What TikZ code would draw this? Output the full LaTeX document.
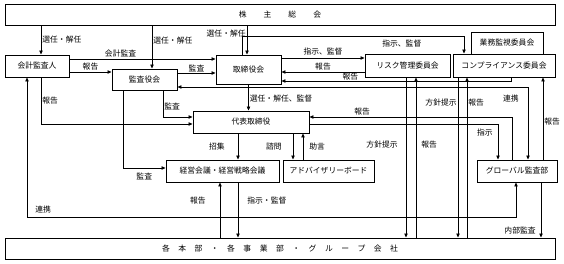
\documentclass[tikz,border=0pt]{standalone}
\usepackage{fontspec}
\setmainfont{Noto Sans CJK JP}
\usepackage{tikz}
\usetikzlibrary{arrows.meta,positioning}
\newcommand{\jp}{\fontsize{7.8}{9}\selectfont}

\begin{document}
\begin{tikzpicture}[
    x=1pt, y=-1pt,
    box/.style={rectangle, draw=black, line width=0.9pt, inner sep=0pt, font=\jp},
    arrow/.style={line width=0.7pt, -{Triangle[length=4pt,width=3.4pt]}},
    both_arrow/.style={line width=0.7pt, {Triangle[length=4pt,width=3.4pt]}-{Triangle[length=4pt,width=3.4pt]}},
    lbl/.style={font=\jp, inner sep=1pt}
]
\useasboundingbox (0,0) rectangle (564,264);

% Top and bottom
\node[box, minimum width=550pt, minimum height=21pt] (soukai) at (280,14.5) {株\kern17pt 主\kern17pt 総\kern17pt 会};
\node[box, minimum width=550pt, minimum height=21pt] (kakuhonbu) at (280,248.5) {各\kern8.5pt 本\kern8.5pt 部\kern8.5pt ・\kern8.5pt 各\kern8.5pt 事\kern8.5pt 業\kern8.5pt 部\kern8.5pt ・\kern8.5pt グ\kern8.5pt ル\kern8.5pt ー\kern8.5pt プ\kern8.5pt 会\kern8.5pt 社};

% Board level
\node[box, minimum width=64pt, minimum height=22pt] (kaikei) at (37,66) {会計監査人};
\node[box, minimum width=65pt, minimum height=21pt] (kansa) at (144.5,79.5) {監査役会};
\node[box, minimum width=65pt, minimum height=29pt] (torishimari) at (248.5,69.5) {取締役会};
\node[box, minimum width=85pt, minimum height=23pt] (risk) at (407.5,65.5) {リスク管理委員会};
\node[box, minimum width=102pt, minimum height=23pt] (comp) at (504,65.5) {コンプライアンス委員会};
\node[box, minimum width=72pt, minimum height=22pt] (gyomu) at (507,43) {業務監視委員会};

% Executive level
\node[box, minimum width=116pt, minimum height=22pt] (daihyo) at (251,122) {代表取締役};
\node[box, minimum width=113pt, minimum height=22pt] (keiei) at (222.5,171) {経営会議・経営戦略会議};
\node[box, minimum width=91pt, minimum height=22pt] (advisory) at (328.5,171) {アドバイザリーボード};
\node[box, minimum width=80pt, minimum height=22pt] (global) at (517,171) {グローバル監査部};

% Shareholders
\draw[arrow] ([xshift=4pt]kaikei.north |- soukai.south) -- ([xshift=4pt]kaikei.north) node[midway, right, lbl] {選任・解任};
\draw[arrow] ([xshift=7.5pt]kansa.north |- soukai.south) -- ([xshift=7.5pt]kansa.north) node[pos=0.36, right, lbl] {選任・解任};
\draw[arrow] ([xshift=-1.5pt]torishimari.north |- soukai.south) -- ([xshift=-1.5pt]torishimari.north) node[pos=0.27, left, lbl] {選任・解任};

% Audit connections
\draw[arrow] ([yshift=7pt]kaikei.east) -- ([yshift=7pt]kaikei.east -| torishimari.west) node[pos=0.35, above, lbl] {会計監査};
\draw[arrow] ([yshift=-6pt]kaikei.east) -- ([yshift=-6pt]kaikei.east -| kansa.west) node[midway, above, lbl] {報告};
\draw[arrow] ([yshift=6.5pt]kansa.east) -- ([yshift=6.5pt]kansa.east -| torishimari.west) node[midway, above, lbl] {監査};
\draw[arrow] ([xshift=18.5pt]kansa.south) |- ([yshift=5pt]daihyo.west) node[pos=0.31, right, lbl] {監査};
\draw[arrow] ([xshift=4pt]kaikei.south) |- ([yshift=-2pt]daihyo.west) node[pos=0.245, right, lbl] {報告};
\draw[arrow] ([xshift=-21.5pt]kansa.south) |- ([yshift=3pt]keiei.west) node[pos=0.75, below=4pt, lbl] {監査};
\draw[both_arrow] ([yshift=-7.5pt]kansa.east) -| ([xshift=11pt]global.north) node[pos=0.58, left=8pt, lbl] {連携};
\draw[both_arrow] ([xshift=-10pt]kaikei.south) |- ([yshift=20pt]kakuhonbu.north) node[pos=0.47, right=7pt, lbl] {連携} -| ([xshift=-1pt]global.south);

% Board and committees
\draw[arrow] ([yshift=11.5pt]torishimari.east) -- ([yshift=11.5pt]torishimari.east -| risk.west) node[midway, above=2pt, lbl] {指示、監督};
\draw[arrow] ([yshift=-2.5pt]torishimari.east -| risk.west) -- ([yshift=-2.5pt]torishimari.east) node[midway, above, lbl] {報告};
\draw[arrow] ([xshift=7pt]comp.south) |- ([yshift=-11.5pt]torishimari.east) node[pos=0.85, above=-0.5pt, lbl] {報告};
\draw[arrow] ([xshift=-6.5pt]torishimari.north) -- ++(0,-18) -| ([xshift=-40pt]comp.north) node[pos=0.36, below=2pt, lbl] {指示、監督};
\draw[arrow] (torishimari.south) -- (torishimari.south |- daihyo.north) node[pos=0.55, right, lbl] {選任・解任、監督};

% Representative director
\draw[arrow] ([xshift=-13pt]daihyo.south) -- ([xshift=-13pt]daihyo.south |- keiei.north) node[midway, left=12pt, lbl] {招集};
\draw[arrow] ([xshift=42pt]daihyo.south) -- ([xshift=42pt]daihyo.south |- advisory.north) node[midway, left=10pt, lbl] {諮問};
\draw[arrow] ([xshift=-25.5pt]advisory.north) -- ([xshift=-25.5pt]advisory.north |- daihyo.south) node[midway, right=5pt, lbl] {助言};
\draw[arrow] ([xshift=-5pt]global.north) |- ([yshift=5pt]daihyo.east) node[pos=0.87, above, lbl] {報告};
\draw[arrow] ([yshift=-2pt]daihyo.east) -| ([xshift=-19pt]global.north) node[pos=0.625, left=4pt, lbl] {指示};
\draw[arrow] ([xshift=26pt]global.north) -- ([xshift=26pt]global.north |- comp.south) node[pos=0.46, right, lbl] {報告};

% Committees and departments
\draw[arrow] ([xshift=-1.5pt]risk.south) -- ([xshift=-1.5pt]risk.south |- kakuhonbu.north) node[pos=0.42, left=7pt, lbl] {方針提示};
\draw[arrow] ([xshift=8.5pt]risk.south |- kakuhonbu.north) -- ([xshift=8.5pt]risk.south) node[pos=0.58, right=4pt, lbl] {報告};
\draw[arrow] ([xshift=-46pt]comp.south) -- ([xshift=-46pt]comp.south |- kakuhonbu.north) node[pos=0.155, left, lbl] {方針提示};
\draw[arrow] ([xshift=-37pt]comp.south |- kakuhonbu.north) -- ([xshift=-37pt]comp.south) node[pos=0.845, right, lbl] {報告};

% Management meeting and departments
\draw[arrow] ([xshift=15.5pt]keiei.south) -- ([xshift=15.5pt]keiei.south |- kakuhonbu.north) node[pos=0.32, right=8pt, lbl] {指示・監督};
\draw[arrow] ([xshift=-2.5pt]keiei.south |- kakuhonbu.north) -- ([xshift=-2.5pt]keiei.south) node[pos=0.68, left=13pt, lbl] {報告};
\draw[arrow] ([xshift=24pt]global.south) -- ([xshift=24pt]global.south |- kakuhonbu.north) node[pos=0.875, left=4pt, lbl] {内部監査};

\end{tikzpicture}
\end{document}
